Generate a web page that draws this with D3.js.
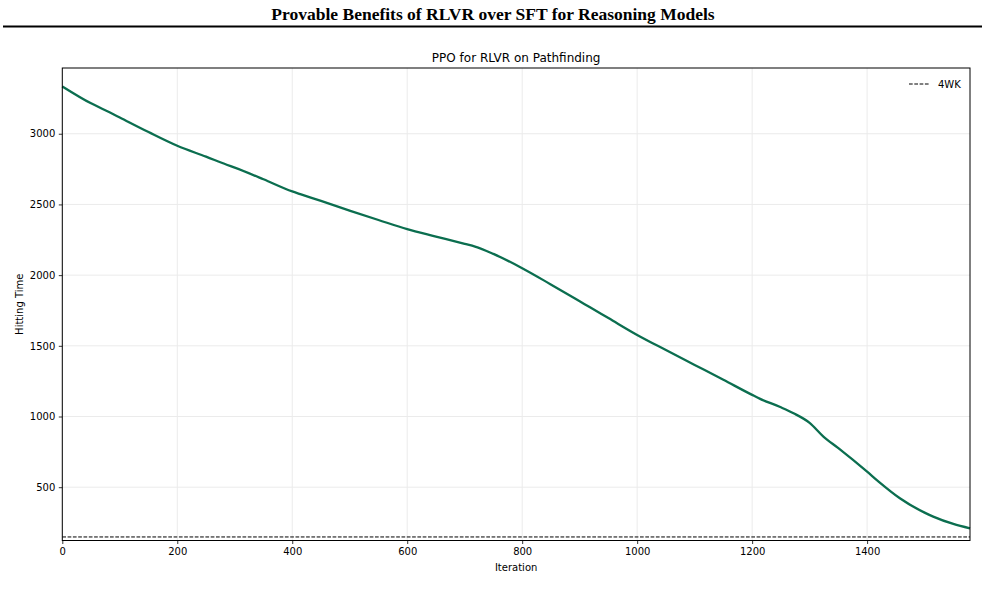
<!DOCTYPE html>
<html>
<head>
<meta charset="utf-8">
<script src="https://cdn.jsdelivr.net/npm/d3@7"></script>
<style>
  body { margin: 0; background: #fff; }
  svg { display: block; }
</style>
</head>
<body>
<div id="chart"></div>
<script>
// values
const iterations = [0, 50, 83, 100, 150, 200, 250, 286, 300, 350, 400, 414, 450, 501, 550, 600, 650,
    700, 718, 750, 800, 849, 900, 918, 950, 1000, 1050, 1100, 1150, 1200, 1214, 1250, 1272, 1300,
    1324, 1350, 1400, 1420, 1457, 1500, 1515, 1550, 1579];
const hittingTime = [3335, 3215, 3150, 3115, 3012, 2915, 2838, 2781, 2760, 2678, 2592, 2573, 2525, 2455,
    2390, 2325, 2273, 2221, 2202, 2150, 2049, 1936, 1815, 1772, 1696, 1577, 1470, 1365, 1260, 1153,
    1125, 1065, 1023, 955, 858, 776, 610, 540, 422, 320, 292, 240, 209];
const baseline4WK = 148;
const xTicks = [0, 200, 400, 600, 800, 1000, 1200, 1400];
const yTicks = [500, 1000, 1500, 2000, 2500, 3000];
const xDomain = [0, 1579];
const yDomain = [123, 3465];

const W = 985, H = 596;
const margin = {top: 68, right: 15, bottom: 55.5, left: 62.3},
    width = W - margin.left - margin.right,
    height = H - margin.top - margin.bottom;

const root = d3.select("#chart")
    .append("svg")
    .attr("width", W)
    .attr("height", H);

// paper header
root.append("text")
    .attr("x", 493)
    .attr("y", 20)
    .attr("text-anchor", "middle")
    .attr("font-family", "Liberation Serif, serif")
    .attr("font-weight", "bold")
    .attr("font-size", 17.5)
    .text("Provable Benefits of RLVR over SFT for Reasoning Models");
root.append("line")
    .attr("x1", 3).attr("x2", 982)
    .attr("y1", 26.5).attr("y2", 26.5)
    .attr("stroke", "#000")
    .attr("stroke-width", 2);

const svg = root.append("g")
    .attr("transform", `translate(${margin.left}, ${margin.top})`);

const x = d3.scaleLinear().domain(xDomain).range([0, width]);
const y = d3.scaleLinear().domain(yDomain).range([height, 0]);

// grid
svg.append("g")
    .selectAll("line")
    .data(xTicks)
    .join("line")
    .attr("x1", d => x(d)).attr("x2", d => x(d))
    .attr("y1", 0).attr("y2", height)
    .attr("stroke", "#ebebeb");
svg.append("g")
    .selectAll("line")
    .data(yTicks)
    .join("line")
    .attr("x1", 0).attr("x2", width)
    .attr("y1", d => y(d)).attr("y2", d => y(d))
    .attr("stroke", "#ebebeb");

// 4WK reference
svg.append("line")
    .attr("x1", 0).attr("x2", width)
    .attr("y1", y(baseline4WK)).attr("y2", y(baseline4WK))
    .attr("stroke", "#000")
    .attr("stroke-width", 1)
    .attr("stroke-dasharray", "3.7,1.6");

const data = iterations.map((it, i) => ({it: it, v: hittingTime[i]}));
svg.append("path")
    .datum(data)
    .attr("fill", "none")
    .attr("stroke", "#0b6e4f")
    .attr("stroke-width", 2.3)
    .attr("stroke-linejoin", "round")
    .attr("d", d3.line()
        .curve(d3.curveMonotoneX)
        .x(d => x(d.it))
        .y(d => y(d.v)));

// axes
const xAxis = svg.append("g")
    .attr("transform", `translate(0, ${height})`)
    .call(d3.axisBottom(x).tickValues(xTicks).tickFormat(d3.format("d")).tickSize(3.5).tickPadding(3.5));
const yAxis = svg.append("g")
    .call(d3.axisLeft(y).tickValues(yTicks).tickFormat(d3.format("d")).tickSize(3.5).tickPadding(3.5));
[xAxis, yAxis].forEach(a => {
    a.select(".domain").remove();
    a.selectAll("text")
        .attr("font-family", "DejaVu Sans, sans-serif")
        .attr("font-size", 10)
        .attr("fill", "#000");
    a.selectAll("line").attr("stroke", "#000").attr("stroke-width", 0.8);
});

// frame
svg.append("rect")
    .attr("width", width)
    .attr("height", height)
    .attr("fill", "none")
    .attr("stroke", "#000")
    .attr("stroke-width", 1);

// titles and labels
svg.append("text")
    .attr("x", width / 2)
    .attr("y", -6)
    .attr("text-anchor", "middle")
    .attr("font-family", "DejaVu Sans, sans-serif")
    .attr("font-size", 12)
    .text("PPO for RLVR on Pathfinding");
svg.append("text")
    .attr("x", width / 2)
    .attr("y", height + 30)
    .attr("text-anchor", "middle")
    .attr("font-family", "DejaVu Sans, sans-serif")
    .attr("font-size", 10)
    .text("Iteration");
svg.append("text")
    .attr("transform", `translate(${-39}, ${height / 2}) rotate(-90)`)
    .attr("text-anchor", "middle")
    .attr("font-family", "DejaVu Sans, sans-serif")
    .attr("font-size", 10)
    .text("Hitting Time");

// legend
const legend = svg.append("g")
    .attr("transform", `translate(${width - 61}, 16)`);
legend.append("line")
    .attr("x1", 0).attr("x2", 20)
    .attr("stroke", "#000")
    .attr("stroke-width", 1)
    .attr("stroke-dasharray", "3.7,1.6");
legend.append("text")
    .attr("x", 29)
    .attr("y", 3.5)
    .attr("font-family", "DejaVu Sans, sans-serif")
    .attr("font-size", 10)
    .text("4WK");
</script>
</body>
</html>
